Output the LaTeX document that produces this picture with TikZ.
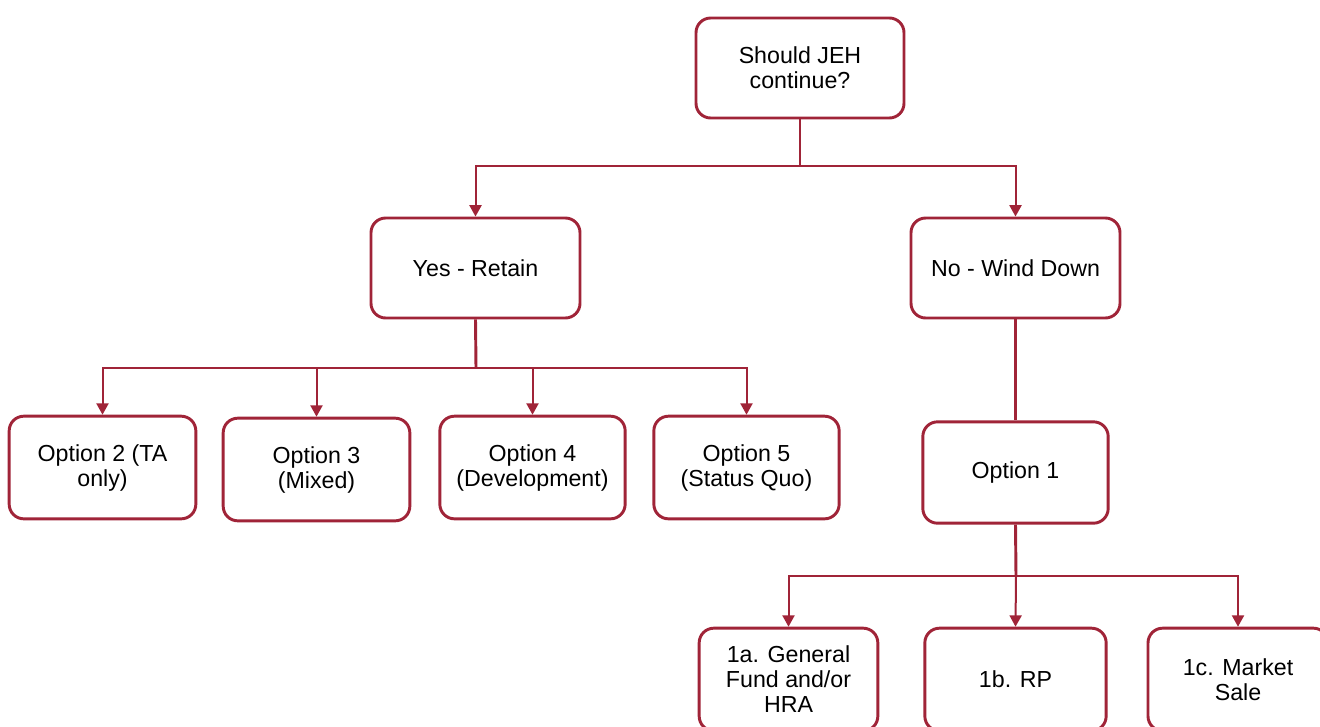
\documentclass[tikz,border=0pt]{standalone}
\usepackage{fontspec}
\setmainfont{Liberation Sans}
\usetikzlibrary{arrows.meta}
\definecolor{jehred}{RGB}{160,36,56}
\begin{document}
\begin{tikzpicture}[x=0.75pt,y=-0.75pt,
  box/.style={draw=jehred, line width=2.2pt, rounded corners=11pt, fill=white,
    align=center, inner sep=0pt, font=\fontsize{17.4}{18.75}\selectfont},
  stem/.style={draw=jehred, line width=2.2pt},
  branch/.style={draw=jehred, line width=1.5pt, -{Triangle[length=8.5pt,width=9pt]}}]
\useasboundingbox (0,0) rectangle (1320,726);
% nodes
\node[box, minimum width=156pt, minimum height=75pt] (top) at (800,68) {Should JEH\\continue?};
\node[box, minimum width=156.75pt, minimum height=75pt] (yes) at (475.5,268) {Yes - Retain};
\node[box, minimum width=156.75pt, minimum height=75pt] (no) at (1015.5,268) {No - Wind Down};
\node[box, minimum width=140pt, minimum height=77pt] (o2) at (102.5,467.5) {Option 2 (TA\\only)};
\node[box, minimum width=140pt, minimum height=77pt] (o3) at (316.5,469.5) {Option 3\\(Mixed)};
\node[box, minimum width=139pt, minimum height=77pt] (o4) at (532.5,467.5) {Option 4\\(Development)};
\node[box, minimum width=139pt, minimum height=77pt] (o5) at (746.5,467.5) {Option 5\\(Status Quo)};
\node[box, minimum width=139pt, minimum height=76pt] (o1) at (1015.5,472.5) {Option 1};
\node[box, minimum width=134pt, minimum height=77pt] (a1) at (788.5,679.5) {1a. General\\Fund and/or\\HRA};
\node[box, minimum width=136pt, minimum height=77pt] (b1) at (1015.5,679.5) {1b. RP};
\node[box, minimum width=135pt, minimum height=77pt] (c1) at (1238,679.5) {1c. Market\\Sale};
% junctions
\coordinate (j0) at (800,166);
\coordinate (j1) at (476,368);
\coordinate (j2) at (1016,576);
% connectors
\draw[stem] (top.south) -- (j0);
\draw[branch] (j0) -| (yes.north);
\draw[branch] (j0) -| (no.north);
\draw[stem] (yes.south) -- (j1);
\draw[branch] (j1) -| (o2.north);
\draw[branch] (j1) -| (o3.north);
\draw[branch] (j1) -| (o4.north);
\draw[branch] (j1) -| (o5.north);
\draw[stem] (no.south) -- (o1.north);
\draw[stem] (o1.south) -- (j2);
\draw[branch] (j2) -| (a1.north);
\draw[branch] (j2) -- (b1.north);
\draw[branch] (j2) -| (c1.north);
\end{tikzpicture}
\end{document}
